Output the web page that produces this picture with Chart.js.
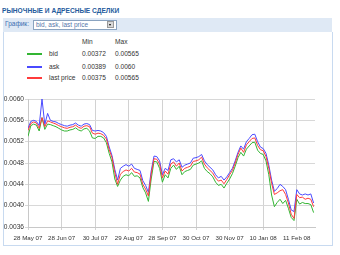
<!DOCTYPE html>
<html><head><meta charset="utf-8">
<script src="https://cdn.jsdelivr.net/npm/chart.js@4"></script>
<style>
html,body{margin:0;padding:0;background:#fff;width:340px;height:255px;overflow:hidden;font-family:"Liberation Sans",Arial,sans-serif;}
.a{position:absolute;white-space:nowrap;}
#title{left:2px;top:7px;font-weight:bold;font-size:6.6px;color:#245a9c;line-height:8px;}
#bar{left:3px;top:18px;width:329px;height:14px;background:#dfe9f5;}
#glab{left:5px;top:20px;font-size:6.5px;color:#3a6db0;line-height:8px;}
#sel{left:33px;top:20px;width:82px;height:8px;background:#fff;border:1px solid #8aa3c0;}
#seltxt{left:36px;top:20.5px;font-size:6.5px;color:#5577aa;line-height:8px;}
#btn{left:107px;top:21px;width:7px;height:7px;background:#d8d8d8;border:1px solid #999;box-sizing:border-box;}
#arr{left:109px;top:23.5px;width:0;height:0;border-left:1.5px solid transparent;border-right:1.5px solid transparent;border-top:2px solid #000;}
#panel{left:3px;top:32px;width:328px;height:213px;border:1px solid #c8daf0;border-top:none;}
.t{font-size:6.6px;color:#333;line-height:8px;}
.sw{position:absolute;left:27px;width:15px;height:2px;}
#c{position:absolute;left:0;top:85px;}
</style></head><body>
<div class="a" id="title">РЫНОЧНЫЕ И АДРЕСНЫЕ СДЕЛКИ</div>
<div class="a" id="bar"></div>
<div class="a" id="glab">График:</div>
<div class="a" id="sel"></div>
<div class="a" id="seltxt">bid, ask, last price</div>
<div class="a" id="btn"></div>
<div class="a" id="arr"></div>
<div class="a" id="panel"></div>
<div id="legend"></div>
<canvas id="c" width="340" height="160" style="width:340px;height:160px"></canvas>
<script>
const seriesNames = ["bid", "ask", "last price"];
const seriesColors = ["#33b533", "#4a4aff", "#ff3b3b"];
const minLabels = ["0.00372", "0.00389", "0.00375"];
const maxLabels = ["0.00565", "0.0060", "0.00565"];
const dateLabels = ["28 May 07","28 Jun 07","30 Jul 07","29 Aug 07","28 Sep 07","30 Oct 07","30 Nov 07","10 Jan 08","11 Feb 08"];
const yTicks = [0.0036,0.0038,0.0040,0.0042,0.0044,0.0046,0.0048,0.0050,0.0052,0.0054,0.0056,0.0058,0.0060];

const lastPrice = [0.00541,0.00554,0.00557,0.00555,0.00545,0.00565,0.00548,0.00559,0.00557,0.00555,
0.00553,0.00550,0.00548,0.00546,0.00545,0.00547,0.00548,0.00551,0.00547,0.00545,
0.00549,0.00550,0.00548,0.00536,0.00534,0.00536,0.00535,0.00532,0.00525,0.00505,
0.00490,0.00462,0.00440,0.00459,0.00464,0.00467,0.00465,0.00470,0.00463,0.00462,
0.00459,0.00440,0.00431,0.00418,0.00459,0.00488,0.00487,0.00478,0.00452,0.00465,
0.00459,0.00478,0.00482,0.00474,0.00480,0.00465,0.00470,0.00472,0.00474,0.00483,
0.00484,0.00486,0.00491,0.00478,0.00471,0.00466,0.00461,0.00452,0.00446,0.00448,
0.00441,0.00449,0.00458,0.00466,0.00480,0.00496,0.00508,0.00500,0.00514,0.00520,
0.00526,0.00527,0.00513,0.00505,0.00503,0.00492,0.00470,0.00442,0.00421,0.00424,
0.00428,0.00430,0.00421,0.00405,0.00384,0.00376,0.00421,0.00415,0.00416,0.00412,
0.00414,0.00412,0.00398];
const ask = [0.00545,0.00558,0.00560,0.00558,0.00550,0.00600,0.00552,0.00573,0.00560,0.00558,
0.00557,0.00554,0.00552,0.00550,0.00549,0.00551,0.00552,0.00555,0.00551,0.00549,
0.00553,0.00554,0.00552,0.00541,0.00540,0.00541,0.00540,0.00537,0.00530,0.00510,
0.00494,0.00468,0.00448,0.00470,0.00474,0.00477,0.00474,0.00478,0.00470,0.00468,
0.00466,0.00447,0.00438,0.00425,0.00465,0.00493,0.00492,0.00484,0.00458,0.00470,
0.00466,0.00486,0.00488,0.00482,0.00486,0.00472,0.00476,0.00478,0.00480,0.00489,
0.00490,0.00492,0.00496,0.00484,0.00477,0.00472,0.00467,0.00458,0.00452,0.00455,
0.00448,0.00454,0.00462,0.00470,0.00484,0.00500,0.00512,0.00506,0.00520,0.00526,
0.00533,0.00534,0.00520,0.00510,0.00507,0.00498,0.00476,0.00448,0.00427,0.00432,
0.00440,0.00436,0.00430,0.00412,0.00392,0.00389,0.00430,0.00422,0.00420,0.00422,
0.00420,0.00422,0.00405];
const bid = [0.00530,0.00550,0.00553,0.00551,0.00540,0.00565,0.00543,0.00553,0.00552,0.00550,
0.00548,0.00545,0.00542,0.00540,0.00540,0.00542,0.00543,0.00546,0.00542,0.00540,
0.00544,0.00545,0.00540,0.00527,0.00526,0.00530,0.00530,0.00527,0.00518,0.00498,
0.00482,0.00450,0.00436,0.00448,0.00455,0.00458,0.00456,0.00462,0.00455,0.00456,
0.00452,0.00434,0.00424,0.00408,0.00450,0.00483,0.00482,0.00470,0.00444,0.00458,
0.00452,0.00470,0.00476,0.00468,0.00474,0.00458,0.00464,0.00466,0.00468,0.00476,
0.00478,0.00480,0.00484,0.00470,0.00464,0.00460,0.00454,0.00444,0.00438,0.00440,
0.00433,0.00442,0.00450,0.00460,0.00474,0.00490,0.00500,0.00493,0.00506,0.00512,
0.00518,0.00519,0.00504,0.00498,0.00496,0.00484,0.00458,0.00420,0.00398,0.00406,
0.00412,0.00404,0.00410,0.00395,0.00378,0.00372,0.00412,0.00403,0.00406,0.00404,
0.00404,0.00402,0.00387];
const pointsPerLabel = 12;

// legend table (HTML)
const lg = document.getElementById('legend');
const rowsY = [50, 63, 74];
function addText(txt, x, y){ const d=document.createElement('div'); d.className='a t'; d.style.left=x+'px'; d.style.top=y+'px'; d.textContent=txt; lg.appendChild(d); }
addText('Min', 82, 38); addText('Max', 115, 38);
seriesNames.forEach((n,i)=>{
  const s=document.createElement('div'); s.className='sw'; s.style.top=(rowsY[i]+3)+'px'; s.style.background=seriesColors[i]; lg.appendChild(s);
  addText(n, 49, rowsY[i]); addText(minLabels[i], 82, rowsY[i]); addText(maxLabels[i], 115, rowsY[i]);
});

const allSeries = [bid, ask, lastPrice];
const datasets = allSeries.map((arr, k) => ({
  label: seriesNames[k],
  data: arr.map((v, i) => ({x: i, y: v})),
  borderColor: seriesColors[k],
  borderWidth: 1,
  pointRadius: 0,
  tension: 0,
  fill: false,
  order: 3 - k
}));

new Chart(document.getElementById('c'), {
  type: 'line',
  data: { datasets },
  options: {
    responsive: false, animation: false,
    layout: { padding: { left: 0, right: 25, top: 14, bottom: 1 } },
    plugins: { legend: { display: false }, tooltip: { enabled: false } },
    scales: {
      x: {
        type: 'linear', min: 0, max: 102.5,
        afterBuildTicks: s => { s.ticks = dateLabels.map((_, i) => ({ value: i * pointsPerLabel })); },
        afterFit: s => { s.height = 17; },
        ticks: { autoSkip: false, maxRotation: 0, padding: 5, color: '#333',
          font: { family: 'Liberation Sans', size: 6.2 },
          callback: v => dateLabels[Math.round(v / pointsPerLabel)] },
        grid: { color: '#d2d2d2', lineWidth: 1, tickLength: 3 },
        border: { color: '#c8c8c8' }
      },
      y: {
        min: 0.0036, max: 0.0060,
        afterBuildTicks: s => { s.ticks = yTicks.map(v => ({ value: v })); },
        afterFit: s => { s.width = 28; },
        ticks: { padding: 1, color: '#333', font: { family: 'Liberation Sans', size: 6.6 },
          callback: v => v.toFixed(4) },
        grid: { color: '#d8d8d8', lineWidth: 1, tickLength: 3 },
        border: { color: '#c8c8c8' }
      }
    }
  }
});
</script>
</body></html>
